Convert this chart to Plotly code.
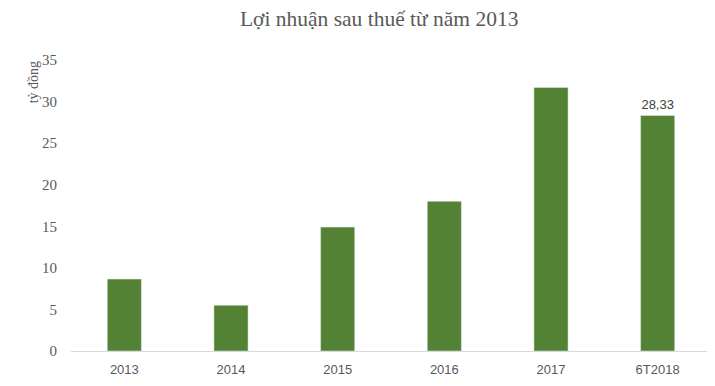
import plotly.graph_objects as go

categories = ["2013", "2014", "2015", "2016", "2017", "6T2018"]
values = [8.65, 5.5, 14.9, 18.0, 31.7, 28.33]
labels = ["", "", "", "", "", "28,33"]
y_ticks = [0, 5, 10, 15, 20, 25, 30, 35]

fig = go.Figure(go.Bar(
    x=categories, y=values, marker_color="#548235", width=0.32,
    text=labels, textposition="outside", cliponaxis=False,
    textfont=dict(family="Liberation Sans, Arial", size=13, color="#404040"),
))

# page body has an 8px default margin, so figure is sized 707x378
fig.update_layout(
    width=707, height=378,
    margin=dict(l=63, r=4, t=52, b=35),
    paper_bgcolor="white", plot_bgcolor="white",
    showlegend=False,
    title=dict(text="Lợi nhuận sau thuế từ năm 2013", x=0.525, xanchor="center",
               y=0.972, yanchor="middle",
               font=dict(family="Liberation Serif, Times New Roman", size=21.5, color="#595959")),
    xaxis=dict(showline=True, linecolor="#d9d9d9", linewidth=1, showgrid=False,
               ticks="outside", ticklen=6, tickcolor="rgba(0,0,0,0)",
               tickfont=dict(family="Liberation Sans, Arial", size=13, color="#595959")),
    yaxis=dict(range=[0, 35], tickvals=y_ticks, showgrid=False, zeroline=False,
               showline=False, ticks="outside", ticklen=10, tickcolor="rgba(0,0,0,0)",
               tickfont=dict(family="Liberation Serif, Times New Roman", size=15, color="#595959")),
    annotations=[dict(text="tỷ đồng", textangle=-90, xref="paper", yref="paper",
                      x=-0.059, y=0.924, xanchor="center", yanchor="middle", showarrow=False,
                      font=dict(family="Liberation Serif, Times New Roman", size=14, color="#595959"))],
)

fig.write_html("out.html")
